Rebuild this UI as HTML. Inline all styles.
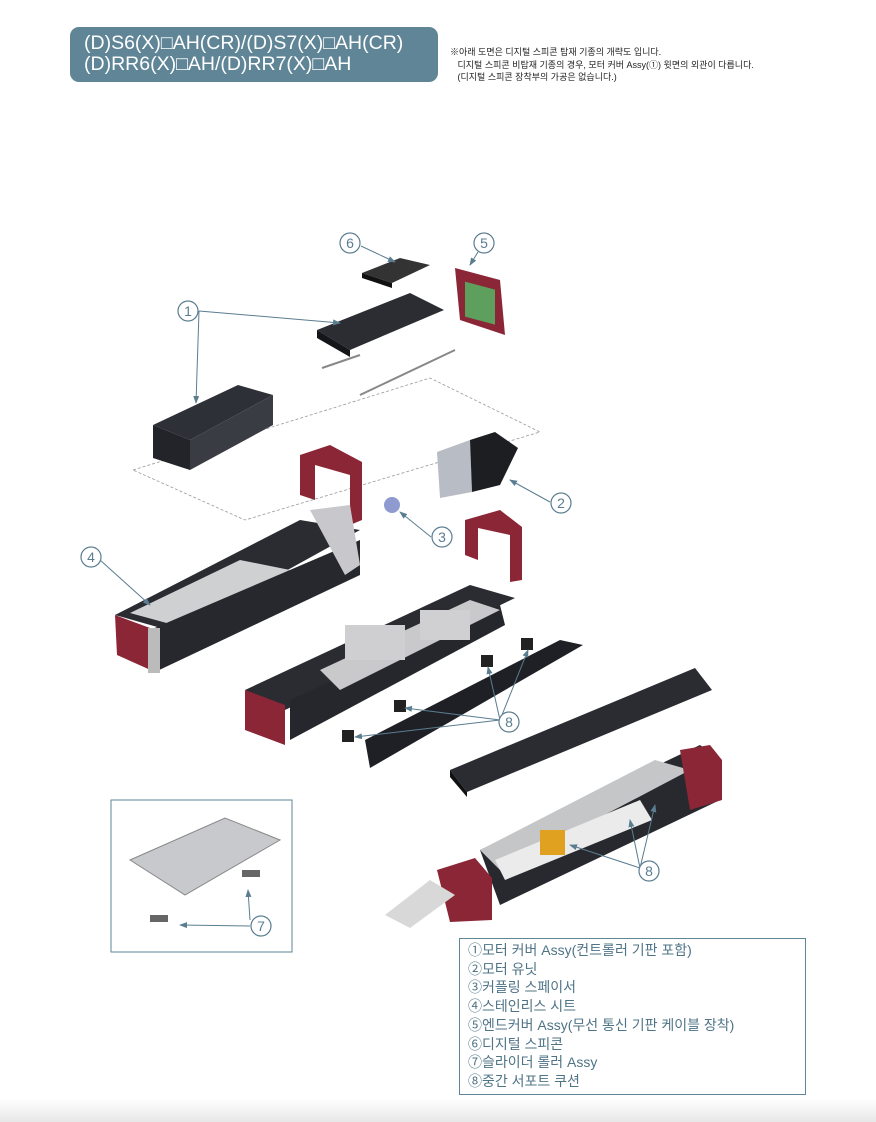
<!DOCTYPE html>
<html><head><meta charset="utf-8"><style>
body{margin:0;background:#fff;width:876px;height:1122px;overflow:hidden;position:relative;font-family:"Liberation Sans","Noto Sans CJK KR",sans-serif}
.hdr{position:absolute;left:70px;top:27px;width:368px;height:55px;background:#5f8597;border-radius:9px;color:#fff;font-size:19.5px;line-height:21px;padding:6px 0 0 14px;box-sizing:border-box}
.note{position:absolute;left:450px;top:46px;font-size:9px;line-height:12.5px;color:#222}
.leg{position:absolute;left:459px;top:938px;width:347px;height:157px;border:1.5px solid #5f8597;box-sizing:border-box;color:#4f7486;font-size:14px;line-height:18.7px;padding:2px 0 0 8px}
svg{position:absolute;left:0;top:0}
</style></head><body>
<svg width="876" height="1122">
<defs><linearGradient id="bg" x1="0" y1="0" x2="0" y2="1"><stop offset="0" stop-color="#fff"/><stop offset="1" stop-color="#e8e8e8"/></linearGradient>
<marker id="ar" markerWidth="8" markerHeight="6" refX="7" refY="3" orient="auto"><path d="M0,0 L8,3 L0,6 z" fill="#5a7d90"/></marker></defs>
<rect x="0" y="1098" width="876" height="24" fill="url(#bg)"/>
<polygon points="133,470 430,378 540,432 245,520" fill="none" stroke="#999" stroke-dasharray="3,2" stroke-width="0.8"/>
<polygon points="362,273 400,258 430,265 392,283" fill="#333"/>
<polygon points="362,273 392,283 392,288 362,278" fill="#111"/>
<polygon points="455,268 500,280 505,335 460,320" fill="#8b2636"/>
<rect x="465" y="282" width="30" height="35" fill="#5e9f5e" transform="skewY(15) translate(0,-125)"/>
<polygon points="317,330 410,293 444,310 350,350" fill="#2b2d33"/>
<polygon points="317,330 350,350 350,357 317,338" fill="#15161a"/>
<line x1="322" y1="368" x2="360" y2="355" stroke="#888" stroke-width="2"/>
<line x1="360" y1="395" x2="455" y2="350" stroke="#888" stroke-width="2"/>
<polygon points="153,425 238,385 273,395 190,440" fill="#2e3037"/>
<polygon points="153,425 190,440 190,470 153,458" fill="#22242a"/>
<polygon points="190,440 273,395 273,425 190,470" fill="#3a3c44"/>
<polygon points="437,452 470,440 472,492 440,498" fill="#b8bcc4"/>
<polygon points="470,440 495,432 518,448 500,485 472,492" fill="#1d1e22"/>
<polygon points="300,455 330,445 362,462 362,520 350,525 350,475 315,465 315,500 300,495" fill="#8b2636"/>
<polygon points="465,520 500,510 522,527 522,580 510,582 510,535 478,528 478,560 465,555" fill="#8b2636"/>
<circle cx="392" cy="505" r="8" fill="#8e9ad0"/>
<polygon points="115,615 300,520 360,530 175,632" fill="#2a2c31"/>
<polygon points="130,613 240,560 300,572 185,628" fill="#cfd0d2"/>
<polygon points="150,630 360,540 360,575 155,672" fill="#26282d"/>
<polygon points="115,615 150,628 155,672 117,655" fill="#8b2636"/>
<rect x="148" y="628" width="12" height="45" fill="#bbb"/>
<polygon points="310,510 350,505 360,565 345,575" fill="#c8c8cc"/>
<polygon points="245,690 470,585 515,598 285,710" fill="#2a2c31"/>
<polygon points="290,700 500,605 505,625 290,740" fill="#25272c"/>
<polygon points="320,670 470,600 500,610 340,690" fill="#c9c9cc"/>
<polygon points="245,690 285,705 285,745 245,730" fill="#8b2636"/>
<polygon points="365,740 560,640 583,645 370,768" fill="#1f2025"/>
<rect x="345" y="625" width="60" height="35" fill="#cfcfd2"/>
<rect x="420" y="610" width="50" height="30" fill="#d0d0d3"/>
<g fill="#222"><rect x="481" y="655" width="12" height="12"/><rect x="521" y="638" width="12" height="12"/><rect x="394" y="700" width="12" height="12"/><rect x="342" y="730" width="12" height="12"/></g>
<polygon points="450,770 695,668 712,690 467,792" fill="#2a2c31"/>
<polygon points="450,770 467,792 467,797 450,777" fill="#111"/>
<polygon points="480,850 700,745 720,760 720,800 500,905" fill="#27292e"/>
<polygon points="480,850 655,760 690,770 500,870" fill="#c5c6c8"/>
<polygon points="437,870 475,858 492,878 492,920 450,922" fill="#8b2636"/>
<polygon points="680,750 710,745 722,760 722,800 690,810" fill="#8b2636"/>
<polygon points="385,915 430,880 455,895 410,928" fill="#d8d8d8"/>
<polygon points="495,860 640,800 652,820 505,880" fill="#ebebeb"/>
<rect x="540" y="830" width="25" height="25" fill="#e0a020"/>
<g stroke="#5a7d90" stroke-width="1" fill="none" marker-end="url(#ar)">
<line x1="199" y1="311" x2="340" y2="323"/><line x1="199" y1="311" x2="196" y2="403"/>
<line x1="550" y1="502" x2="510" y2="480"/><line x1="431" y1="537" x2="400" y2="512"/>
<line x1="100" y1="560" x2="150" y2="605"/><line x1="478" y1="252" x2="470" y2="265"/>
<line x1="361" y1="246" x2="395" y2="262"/><line x1="250" y1="926" x2="180" y2="925"/><line x1="250" y1="920" x2="248" y2="890"/>
<line x1="500" y1="720" x2="488" y2="667"/><line x1="500" y1="720" x2="528" y2="650"/><line x1="500" y1="720" x2="405" y2="708"/><line x1="500" y1="720" x2="355" y2="737"/>
<line x1="640" y1="868" x2="570" y2="845"/><line x1="640" y1="868" x2="630" y2="820"/><line x1="640" y1="868" x2="655" y2="805"/>
</g>
<g fill="#fff" stroke="#5a7d90" stroke-width="1.2">
<circle cx="188" cy="311" r="10"/><circle cx="561" cy="503" r="10"/><circle cx="442" cy="537" r="10"/><circle cx="91" cy="557" r="10"/><circle cx="484" cy="243" r="10"/><circle cx="350" cy="243" r="10"/><circle cx="261" cy="926" r="10"/><circle cx="509" cy="722" r="10"/><circle cx="649" cy="871" r="10"/>
</g>
<g fill="#5a7d90" font-size="14" text-anchor="middle" font-family="Liberation Sans">
<text x="188" y="316">1</text><text x="561" y="508">2</text><text x="442" y="542">3</text><text x="91" y="562">4</text><text x="484" y="248">5</text><text x="350" y="248">6</text><text x="261" y="931">7</text><text x="509" y="727">8</text><text x="649" y="876">8</text>
</g>
<rect x="111" y="800" width="181" height="152" fill="none" stroke="#5f8597" stroke-width="1"/>
<polygon points="130,860 225,818 280,840 185,895" fill="#c7c9cc" stroke="#888"/>
<rect x="242" y="870" width="18" height="7" fill="#666"/><rect x="150" y="915" width="18" height="7" fill="#666"/>
</svg>
<div class="hdr">(D)S6(X)□AH(CR)/(D)S7(X)□AH(CR)<br>(D)RR6(X)□AH/(D)RR7(X)□AH</div>
<div class="note">※아래 도면은 디지털 스피콘 탑재 기종의 개략도 입니다.<br>&nbsp;&nbsp;&nbsp;디지털 스피콘 비탑재 기종의 경우, 모터 커버 Assy(①) 윗면의 외관이 다릅니다.<br>&nbsp;&nbsp;&nbsp;(디지털 스피콘 장착부의 가공은 없습니다.)</div>
<div class="leg">①모터 커버 Assy(컨트롤러 기판 포함)<br>②모터 유닛<br>③커플링 스페이서<br>④스테인리스 시트<br>⑤엔드커버 Assy(무선 통신 기판 케이블 장착)<br>⑥디지털 스피콘<br>⑦슬라이더 롤러 Assy<br>⑧중간 서포트 쿠션</div>
</body></html>
